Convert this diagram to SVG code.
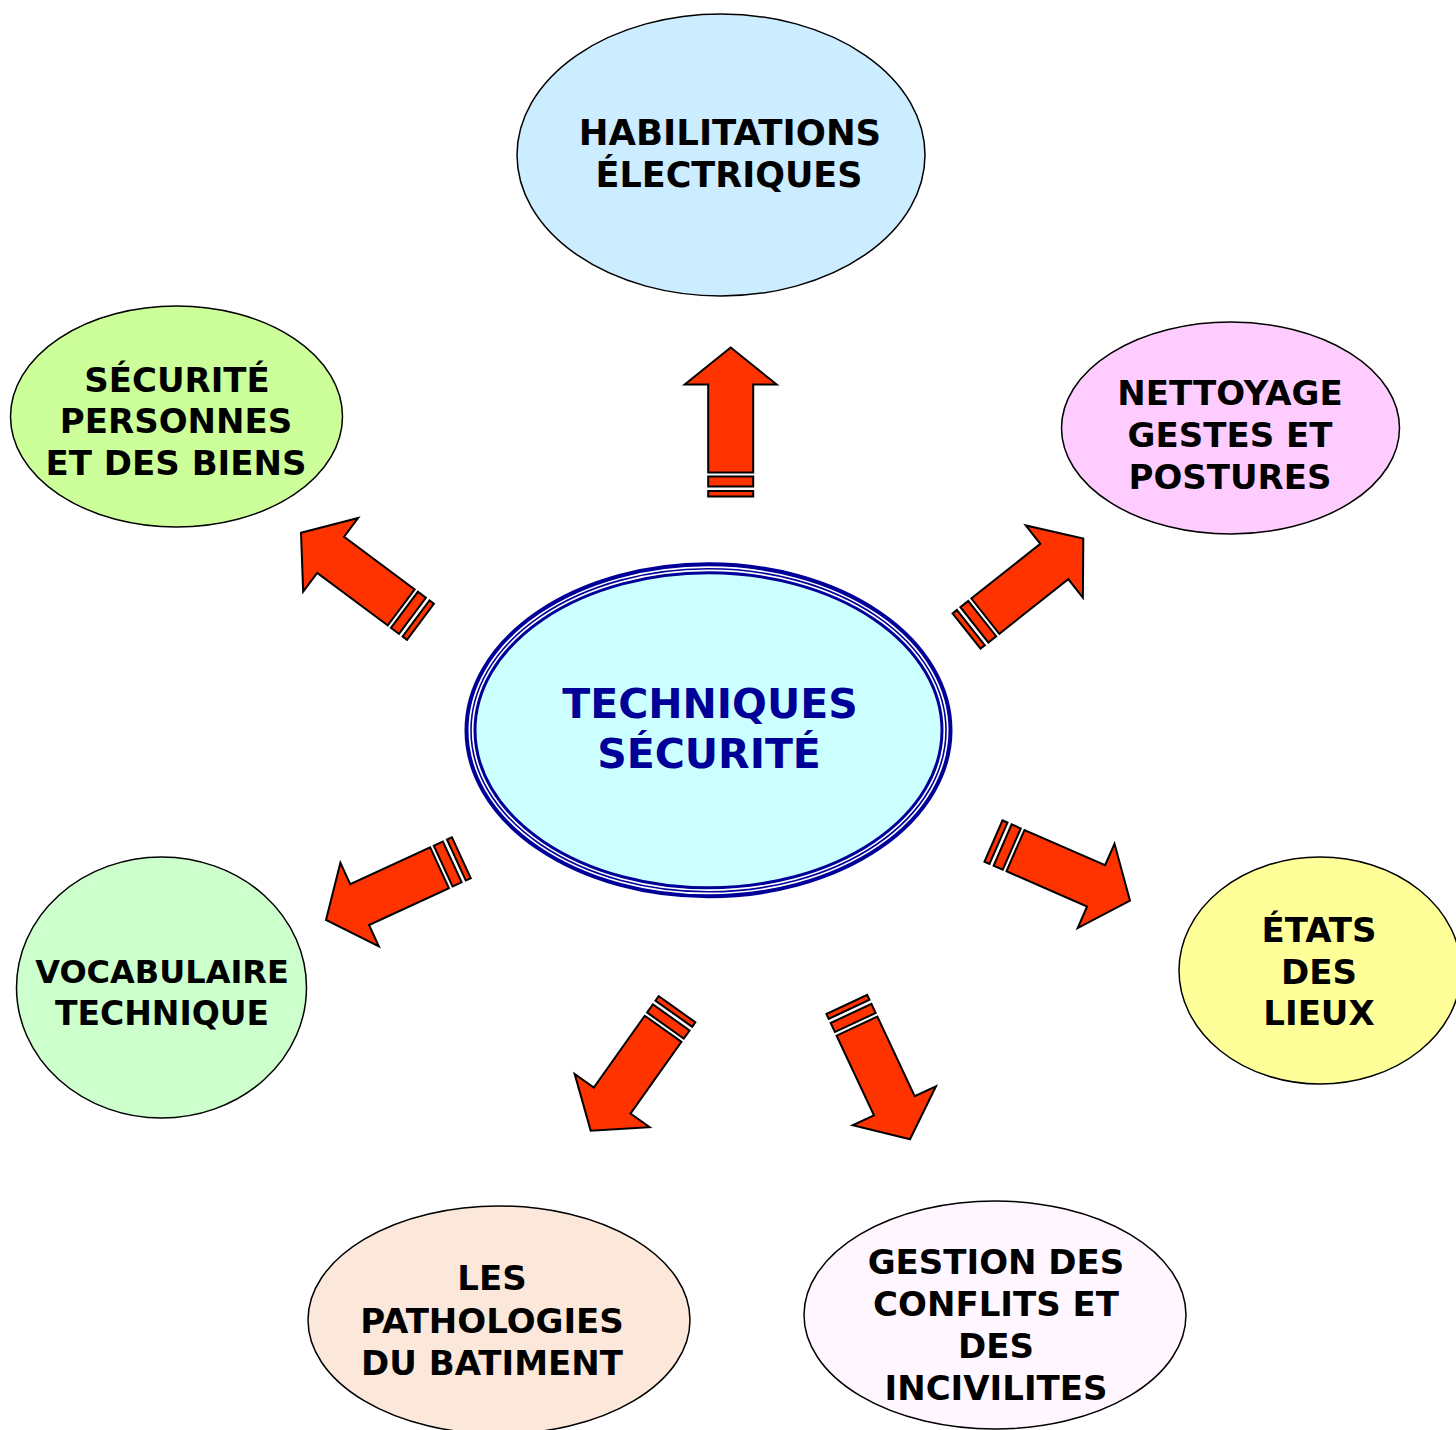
<svg xmlns="http://www.w3.org/2000/svg" xmlns:xlink="http://www.w3.org/1999/xlink" width="1456" height="1430" viewBox="0 0 1456 1430">
<style>
.node{stroke:#000;stroke-width:1.5}
.lbl{font-family:"DejaVu Sans",sans-serif;font-weight:bold;font-size:34px;fill:#000;text-anchor:middle}
.ctr{font-family:"DejaVu Sans",sans-serif;font-weight:bold;font-size:41px;fill:#000099;text-anchor:middle}
.arr{fill:#FF3300;stroke:#000;stroke-width:2;stroke-linejoin:miter}
</style>
<defs>
<g id="arrow">
<path class="arr" d="M0,0 L46,37 L22.5,37 L22.5,125 L-22.5,125 L-22.5,37 L-46,37 Z"/>
<rect class="arr" x="-22.5" y="129" width="45" height="10"/>
<rect class="arr" x="-22.5" y="143.5" width="45" height="5.5"/>
</g>
</defs>
<rect width="1456" height="1430" fill="#fff"/>
<g id="connectors">
<use xlink:href="#arrow" transform="translate(730.7,347.5)"/>
<use xlink:href="#arrow" transform="translate(301,532.7) rotate(-53.3)"/>
<use xlink:href="#arrow" transform="translate(1083.3,538.5) rotate(51.6)"/>
<use xlink:href="#arrow" transform="translate(1130,900.7) rotate(113.6)"/>
<use xlink:href="#arrow" transform="translate(326,920) rotate(-114.7)"/>
<use xlink:href="#arrow" transform="translate(590.7,1130.7) rotate(-144.6)"/>
<use xlink:href="#arrow" transform="translate(910,1139.3) rotate(154.9)"/>
</g>
<g id="node-habilitations">
<ellipse class="node" cx="721" cy="155" rx="204" ry="141" fill="#CCECFF"/>
<text class="lbl" x="730" y="145" style="font-size:35.5px">HABILITATIONS</text>
<text class="lbl" x="729" y="187" style="font-size:35px">ÉLECTRIQUES</text>
</g>
<g id="node-securite">
<ellipse class="node" cx="176.5" cy="416.5" rx="166" ry="110.5" fill="#CCFF99"/>
<text class="lbl" x="177" y="392">SÉCURITÉ</text>
<text class="lbl" x="176" y="433">PERSONNES</text>
<text class="lbl" x="176" y="475">ET DES BIENS</text>
</g>
<g id="node-nettoyage">
<ellipse class="node" cx="1230.5" cy="428" rx="169" ry="106" fill="#FFCCFF"/>
<text class="lbl" x="1230" y="405">NETTOYAGE</text>
<text class="lbl" x="1230" y="447">GESTES ET</text>
<text class="lbl" x="1230" y="489">POSTURES</text>
</g>
<g id="node-central">
<ellipse cx="708.5" cy="730.3" rx="242" ry="166" fill="none" stroke="#000099" stroke-width="4"/>
<ellipse cx="708.5" cy="730.3" rx="237.5" ry="161.5" fill="none" stroke="#000099" stroke-width="1.6"/>
<ellipse cx="708.5" cy="730.3" rx="233.5" ry="157.5" fill="#CCFFFF" stroke="#000099" stroke-width="3"/>
<text class="ctr" x="710" y="718">TECHNIQUES</text>
<text class="ctr" x="709" y="768">SÉCURITÉ</text>
</g>
<g id="node-vocabulaire">
<ellipse class="node" cx="161.5" cy="987.5" rx="145" ry="130.5" fill="#CCFFCC"/>
<text class="lbl" x="162" y="983" style="font-size:32px">VOCABULAIRE</text>
<text class="lbl" x="162" y="1025" style="font-size:33px">TECHNIQUE</text>
</g>
<g id="node-etats">
<ellipse class="node" cx="1320" cy="970.5" rx="141" ry="113.5" fill="#FFFF99"/>
<text class="lbl" x="1319" y="942">ÉTATS</text>
<text class="lbl" x="1319" y="984">DES</text>
<text class="lbl" x="1319" y="1025">LIEUX</text>
</g>
<g id="node-pathologies">
<ellipse class="node" cx="499" cy="1320" rx="191" ry="114" fill="#FCE8DA"/>
<text class="lbl" x="492" y="1290">LES</text>
<text class="lbl" x="492" y="1333">PATHOLOGIES</text>
<text class="lbl" x="492" y="1375">DU BATIMENT</text>
</g>
<g id="node-gestion">
<ellipse class="node" cx="995" cy="1315" rx="191" ry="114" fill="#FFF6FF"/>
<text class="lbl" x="996" y="1274">GESTION DES</text>
<text class="lbl" x="996" y="1316">CONFLITS ET</text>
<text class="lbl" x="996" y="1358">DES</text>
<text class="lbl" x="996" y="1400">INCIVILITES</text>
</g>
</svg>
